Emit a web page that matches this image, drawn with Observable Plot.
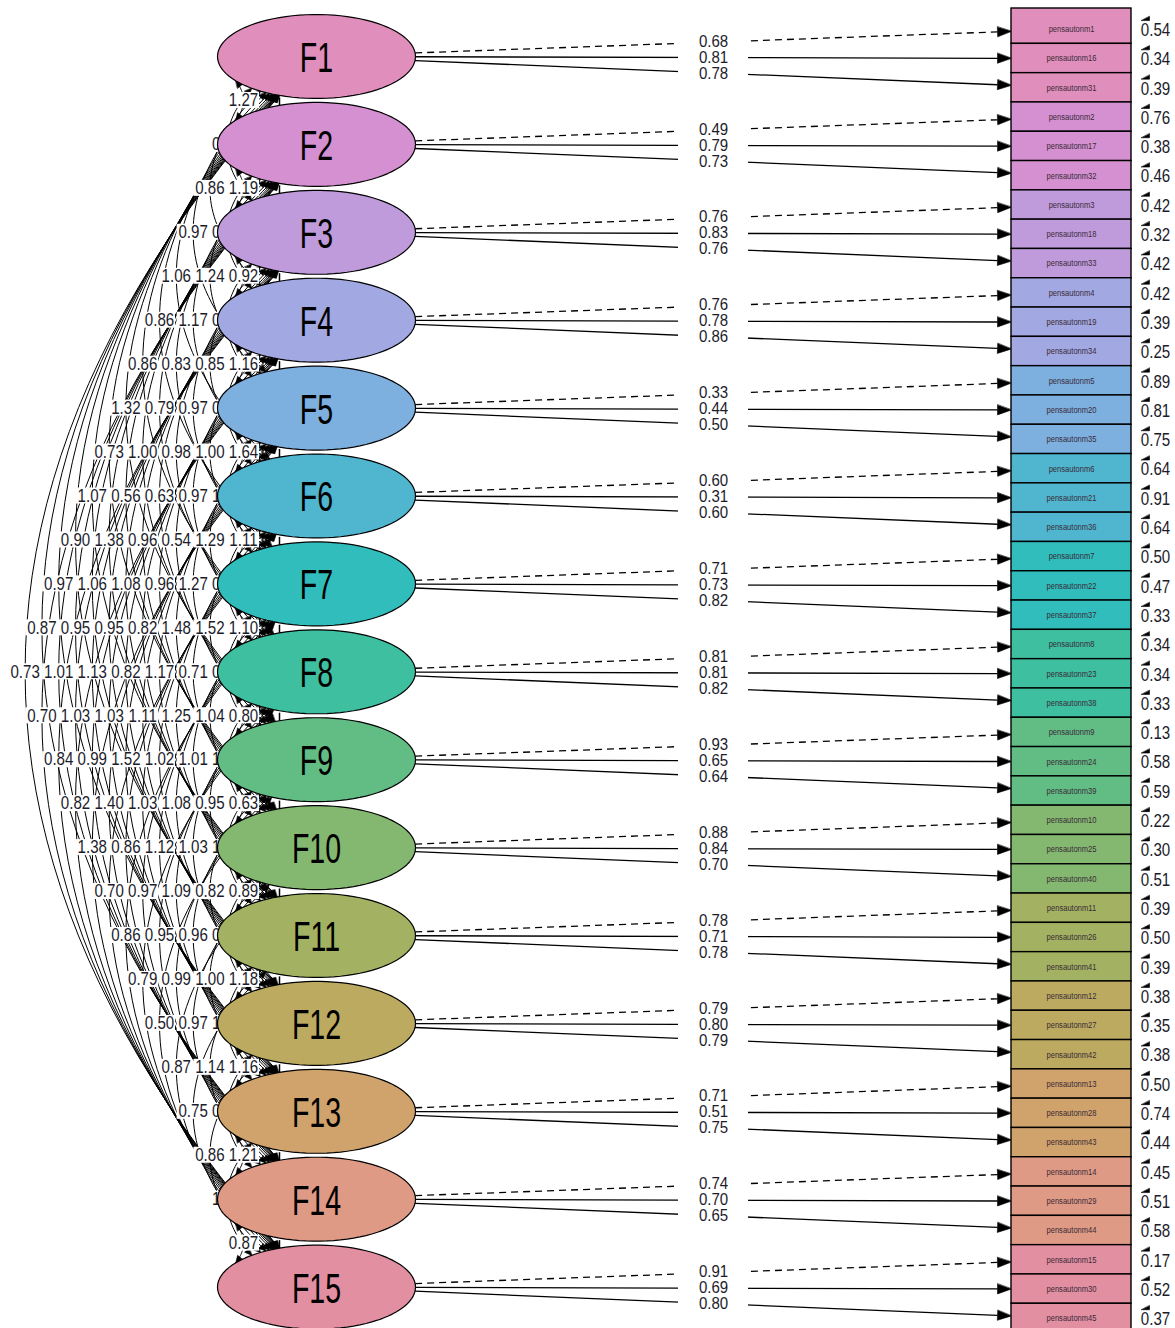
<!DOCTYPE html>
<html><head><meta charset="utf-8">
<script src="https://cdn.jsdelivr.net/npm/d3@7"></script>
<script src="https://cdn.jsdelivr.net/npm/@observablehq/plot@0.6"></script>
<style>html,body{margin:0;padding:0;background:#fff;} #chart svg{display:block;}</style>
</head><body><div id="chart"></div>
<script>
// ---------------- DATA ----------------
const factors = ["F1","F2","F3","F4","F5","F6","F7","F8","F9","F10","F11","F12","F13","F14","F15"];
const factorColors = ["#E08EBB","#D490D0","#C09BDC","#A2A8E2","#7DAFDF","#50B6CF","#30BDBC","#3DBFA0",
                      "#62BD85","#84B871","#A2B262","#BBAA60","#D0A26C","#DF9A86","#E28FA2"];
const indicators = [
  "pensautonm1","pensautonm16","pensautonm31","pensautonm2","pensautonm17","pensautonm32",
  "pensautonm3","pensautonm18","pensautonm33","pensautonm4","pensautonm19","pensautonm34",
  "pensautonm5","pensautonm20","pensautonm35","pensautonm6","pensautonm21","pensautonm36",
  "pensautonm7","pensautonm22","pensautonm37","pensautonm8","pensautonm23","pensautonm38",
  "pensautonm9","pensautonm24","pensautonm39","pensautonm10","pensautonm25","pensautonm40",
  "pensautonm11","pensautonm26","pensautonm41","pensautonm12","pensautonm27","pensautonm42",
  "pensautonm13","pensautonm28","pensautonm43","pensautonm14","pensautonm29","pensautonm44",
  "pensautonm15","pensautonm30","pensautonm45"];
const loadings = [
  [0.68,0.81,0.78],[0.49,0.79,0.73],[0.76,0.83,0.76],[0.76,0.78,0.86],[0.33,0.44,0.50],
  [0.60,0.31,0.60],[0.71,0.73,0.82],[0.81,0.81,0.82],[0.93,0.65,0.64],[0.88,0.84,0.70],
  [0.78,0.71,0.78],[0.79,0.80,0.79],[0.71,0.51,0.75],[0.74,0.70,0.65],[0.91,0.69,0.80]];
const residuals = [0.54,0.34,0.39,0.76,0.38,0.46,0.42,0.32,0.42,0.42,0.39,0.25,0.89,0.81,0.75,
  0.64,0.91,0.64,0.50,0.47,0.33,0.34,0.34,0.33,0.13,0.58,0.59,0.22,0.30,0.51,
  0.39,0.50,0.39,0.38,0.35,0.38,0.50,0.74,0.44,0.45,0.51,0.58,0.17,0.52,0.37];
// covariances[i] = covariances of factor i+1 with factors i+2 ... 15
const covariances = [
  [1.27,0.93,0.86,0.97,1.06,0.86,0.86,1.32,0.73,1.07,0.90,0.97,0.87,0.73],
  [1.19,0.91,1.24,1.17,0.83,0.79,1.00,0.56,1.38,1.06,0.95,1.01,0.70],
  [0.92,0.88,0.85,0.97,0.98,0.63,0.96,1.08,0.95,1.13,1.03,0.84],
  [1.16,0.94,1.00,0.97,0.54,0.96,0.82,0.82,1.03,0.99,0.82],
  [1.64,1.21,1.29,1.27,1.48,1.17,1.11,1.52,1.40,1.38],
  [1.11,0.99,1.52,0.71,1.25,1.02,1.03,0.86,0.70],
  [1.10,0.92,1.04,1.01,1.08,1.12,0.97,0.86],
  [0.80,1.05,0.95,1.03,1.09,0.95,0.79],
  [0.63,1.06,0.82,0.96,0.99,0.50],
  [0.89,0.90,1.00,0.97,0.87],
  [1.18,1.02,1.14,0.75],
  [1.16,0.96,0.86],
  [1.21,1.08],
  [0.87]];

// ---------------- LAYOUT ----------------
const W = 1175, H = 1328;
const ellX = 316, ellTop = 56, ellStep = 87.9, rx = 99, ry = 42;
const boxX1 = 1011, boxX2 = 1131, boxTop = 14.05, boxH = 29.3, firstBoxTop = 8;
const covRight = 243, covStep = 16.8;
const loadLabelX = 713, loadLabelGap = 16, resX = 1155;
const font = "'Liberation Sans',Arial,sans-serif";
const numColor = "#1c1c2c";

const cyOf = i => ellTop + i * ellStep;
const boxCenter = k => boxTop + k * boxH + boxH / 2;
function ellBoundary(cx, cy, tx, ty) {
  const dx = tx - cx, dy = ty - cy;
  const s = 1 / Math.sqrt((dx / rx) ** 2 + (dy / ry) ** 2);
  return [cx + dx * s, cy + dy * s];
}
let aid = 0;
function addArrow(arr, tx, ty, ux, uy, len, hw) {
  const n = Math.hypot(ux, uy); ux /= n; uy /= n;
  const bx = tx - ux * len, by = ty - uy * len, px = -uy, py = ux, id = aid++;
  arr.push({id, x: tx, y: ty}, {id, x: bx + px * hw, y: by + py * hw}, {id, x: bx - px * hw, y: by - py * hw});
}

// covariance curves
const covCurves = [], covLabels = [], covArrows = [];
covariances.forEach((row, i) => row.forEach((v, k) => {
  const j = i + k + 1, d = j - i;
  const mx = covRight - (d - 1) * covStep, my = (cyOf(i) + cyOf(j)) / 2;
  const c0x = 2 * mx - ellX, c0y = my;
  const P0 = ellBoundary(ellX, cyOf(i), c0x, c0y);
  const P2 = ellBoundary(ellX, cyOf(j), c0x, c0y);
  const cx = 2 * mx - (P0[0] + P2[0]) / 2, cy = 2 * my - (P0[1] + P2[1]) / 2;
  const id = i + "-" + j;
  for (let s = 0; s <= 48; s++) {
    const t = s / 48, a = (1 - t) ** 2, b = 2 * t * (1 - t), c = t * t;
    covCurves.push({id, x: a * P0[0] + b * cx + c * P2[0], y: a * P0[1] + b * cy + c * P2[1]});
  }
  addArrow(covArrows, P0[0], P0[1], P0[0] - cx, P0[1] - cy, 7, 3.2);
  addArrow(covArrows, P2[0], P2[1], P2[0] - cx, P2[1] - cy, 7, 3.2);
  covLabels.push({x: mx, y: my, text: v.toFixed(2)});
}));

// loadings
const loadLines = [], loadLabels = [], loadArrows = [], boxes = [], resLabels = [];
const boxCx = (boxX1 + boxX2) / 2;
loadings.forEach((row, i) => row.forEach((v, k) => {
  const b = i * 3 + k, cy = cyOf(i), by = boxCenter(b);
  const P0 = ellBoundary(ellX, cy, boxCx, by);
  const f = (boxX1 - ellX) / (boxCx - ellX);
  const ey = cy + (by - cy) * f;
  const aLen = 14;
  const ux = boxCx - ellX, uy = by - cy, n = Math.hypot(ux, uy);
  loadLines.push({x1: P0[0], y1: P0[1], x2: boxX1 - aLen * ux / n, y2: ey - aLen * uy / n, fixed: k === 0});
  addArrow(loadArrows, boxX1, ey, ux, uy, aLen, 5);
  loadLabels.push({x: loadLabelX, y: cy + (k - 1) * loadLabelGap + 1, text: v.toFixed(2)});
}));
indicators.forEach((name, b) => {
  const top = boxTop + b * boxH;
  boxes.push({y1: b === 0 ? firstBoxTop : top, y2: top + boxH, name, yc: boxCenter(b), color: factorColors[Math.floor(b / 3)]});
  resLabels.push({x: resX, y: boxCenter(b) + 1, text: residuals[b].toFixed(2)});
  const id = "r" + b;
  loadArrows.push({id, x: 1141, y: top + 6}, {id, x: 1149, y: top + 6}, {id, x: 1149, y: top + 2});
});

// ellipses
const ellPts = [];
factors.forEach((f, i) => {
  for (let s = 0; s < 90; s++) {
    const a = s / 90 * 2 * Math.PI;
    ellPts.push({f, x: ellX + rx * Math.cos(a), y: cyOf(i) + ry * Math.sin(a), color: factorColors[i]});
  }
});
const varTicks = factors.slice(1).map((f, i) => ({x: 279, y1: cyOf(i + 1) - ry - 5, y2: cyOf(i + 1) - ry + 3}));
const ellLabels = factors.map((f, i) => ({x: ellX, y: cyOf(i) + 2, text: f}));

const chart = Plot.plot({
  width: W, height: H, margin: 0,
  x: {domain: [0, W], range: [0, W], axis: null},
  y: {domain: [0, H], range: [0, H], axis: null},
  color: {type: "identity"},
  style: {background: "white"},
  marks: [
    Plot.line(covCurves, {x: "x", y: "y", z: "id", stroke: "black", strokeWidth: 1}),
    Plot.line(covArrows, {x: "x", y: "y", z: "id", fill: "black", stroke: "black", strokeWidth: 0.6, curve: "linear-closed"}),
    Plot.rect(covLabels, {x1: d => d.x - 16, x2: d => d.x + 16, y1: d => d.y - 8, y2: d => d.y + 8, fill: "white"}),
    Plot.text(covLabels, {x: "x", y: "y", text: "text", fontSize: 18, fontFamily: font, fill: numColor, lineAnchor: "middle"}),
    Plot.link(loadLines.filter(d => d.fixed), {x1: "x1", y1: "y1", x2: "x2", y2: "y2", stroke: "black", strokeWidth: 1.3, strokeDasharray: "7,5"}),
    Plot.link(loadLines.filter(d => !d.fixed), {x1: "x1", y1: "y1", x2: "x2", y2: "y2", stroke: "black", strokeWidth: 1.3}),
    Plot.line(loadArrows, {x: "x", y: "y", z: "id", fill: "black", stroke: "black", strokeWidth: 0.6, curve: "linear-closed"}),
    Plot.line(ellPts, {x: "x", y: "y", z: "f", fill: "color", stroke: "black", strokeWidth: 1.2, curve: "linear-closed"}),
    Plot.link(varTicks, {x1: "x", x2: "x", y1: "y1", y2: "y2", stroke: "black", strokeWidth: 1.5}),
    Plot.text(ellLabels, {x: "x", y: "y", text: "text", fontSize: 42, fontFamily: font, fill: "black", lineAnchor: "middle"}),
    Plot.rect(loadLabels, {x1: d => d.x - 35, x2: d => d.x + 35, y1: d => d.y - 9, y2: d => d.y + 9, fill: "white"}),
    Plot.text(loadLabels, {x: "x", y: "y", text: "text", fontSize: 16, fontFamily: font, fill: numColor, lineAnchor: "middle"}),
    Plot.rect(boxes, {x1: boxX1, x2: boxX2, y1: "y1", y2: "y2", fill: "color", stroke: "black", strokeWidth: 1.4}),
    Plot.text(boxes, {x: boxCx, y: "yc", text: "name", fontSize: 9, fontFamily: font, fill: "#3a2a38", lineAnchor: "middle"}),
    Plot.text(resLabels, {x: "x", y: "y", text: "text", fontSize: 18, fontFamily: font, fill: numColor, lineAnchor: "middle"})
  ]
});
// condense the text horizontally, as in the reference (narrow sans-serif)
d3.select(chart).selectAll("text").each(function() {
  const fs = +this.parentNode.getAttribute("font-size");
  const sx = /^F\d+$/.test(this.textContent) ? 0.68 : (fs === 16 ? 0.94 : 0.84);
  const t = this.getAttribute("transform") || "";
  this.setAttribute("transform", `${t} scale(${sx},1)`);
});
document.getElementById("chart").appendChild(chart);
</script>
</body></html>
